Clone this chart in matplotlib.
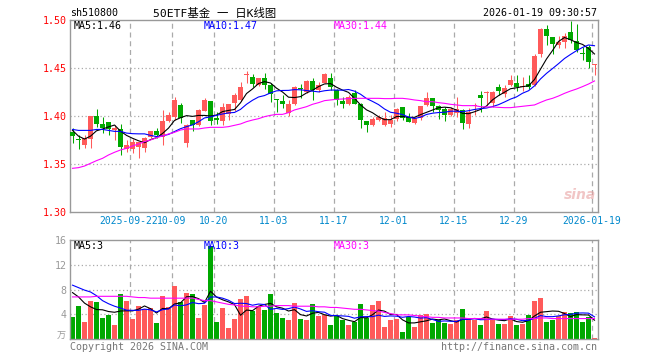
import numpy as np
import pandas as pd
import matplotlib
matplotlib.use('Agg')
import matplotlib.pyplot as plt

W, H = 660, 360

# daily K data, 2025-09-08 .. 2026-01-19 (88 trading days)
opens = [1.383, 1.376, 1.370, 1.376, 1.400, 1.392, 1.394, 1.385, 1.386, 1.366,
         1.366, 1.368, 1.367, 1.378, 1.384, 1.378, 1.395, 1.399, 1.411, 1.372,
         1.396, 1.391, 1.405, 1.416, 1.398, 1.395, 1.402, 1.414, 1.417, 1.443,
         1.441, 1.432, 1.440, 1.432, 1.418, 1.416, 1.403, 1.412, 1.429, 1.425,
         1.436, 1.427, 1.434, 1.440, 1.427, 1.416, 1.413, 1.424, 1.413, 1.395,
         1.391, 1.396, 1.391, 1.392, 1.397, 1.409, 1.399, 1.393, 1.398, 1.411,
         1.419, 1.410, 1.407, 1.401, 1.403, 1.406, 1.392, 1.410, 1.422, 1.424,
         1.414, 1.430, 1.423, 1.432, 1.434, 1.430, 1.433, 1.432, 1.465, 1.491,
         1.482, 1.474, 1.477, 1.488, 1.478, 1.466, 1.472, 1.453]
highs = [1.387, 1.380, 1.380, 1.400, 1.407, 1.399, 1.394, 1.391, 1.392, 1.375,
         1.376, 1.373, 1.378, 1.384, 1.388, 1.406, 1.404, 1.420, 1.414, 1.392,
         1.396, 1.407, 1.419, 1.416, 1.404, 1.414, 1.413, 1.424, 1.435, 1.447,
         1.444, 1.440, 1.445, 1.434, 1.418, 1.422, 1.417, 1.431, 1.433, 1.437,
         1.440, 1.435, 1.445, 1.445, 1.428, 1.420, 1.422, 1.427, 1.414, 1.395,
         1.399, 1.401, 1.404, 1.401, 1.408, 1.409, 1.403, 1.399, 1.410, 1.425,
         1.419, 1.411, 1.409, 1.409, 1.420, 1.407, 1.408, 1.414, 1.426, 1.426,
         1.426, 1.433, 1.432, 1.443, 1.443, 1.441, 1.443, 1.465, 1.492, 1.495,
         1.482, 1.483, 1.486, 1.499, 1.496, 1.472, 1.474, 1.454]
lows = [1.372, 1.366, 1.367, 1.367, 1.389, 1.382, 1.380, 1.375, 1.359, 1.363,
        1.361, 1.356, 1.363, 1.377, 1.377, 1.370, 1.394, 1.396, 1.393, 1.368,
        1.384, 1.390, 1.405, 1.391, 1.392, 1.391, 1.396, 1.405, 1.416, 1.434,
        1.430, 1.431, 1.428, 1.415, 1.404, 1.408, 1.400, 1.411, 1.419, 1.424,
        1.417, 1.425, 1.434, 1.427, 1.411, 1.408, 1.411, 1.412, 1.387, 1.383,
        1.390, 1.395, 1.390, 1.389, 1.395, 1.396, 1.394, 1.392, 1.396, 1.410,
        1.404, 1.397, 1.395, 1.400, 1.399, 1.386, 1.387, 1.401, 1.404, 1.411,
        1.409, 1.422, 1.420, 1.431, 1.426, 1.426, 1.428, 1.431, 1.461, 1.474,
        1.465, 1.471, 1.471, 1.476, 1.467, 1.458, 1.450, 1.443]
closes = [1.379, 1.375, 1.377, 1.400, 1.392, 1.388, 1.386, 1.387, 1.368, 1.370,
          1.373, 1.373, 1.377, 1.384, 1.380, 1.395, 1.401, 1.417, 1.398, 1.391,
          1.391, 1.406, 1.417, 1.395, 1.396, 1.409, 1.412, 1.422, 1.430, 1.444,
          1.433, 1.440, 1.432, 1.423, 1.417, 1.413, 1.413, 1.430, 1.428, 1.436,
          1.427, 1.432, 1.444, 1.430, 1.417, 1.412, 1.420, 1.413, 1.396, 1.391,
          1.397, 1.399, 1.398, 1.396, 1.407, 1.398, 1.394, 1.398, 1.410, 1.419,
          1.410, 1.406, 1.401, 1.407, 1.407, 1.393, 1.404, 1.411, 1.419, 1.425,
          1.425, 1.426, 1.429, 1.437, 1.430, 1.431, 1.430, 1.462, 1.491, 1.483,
          1.475, 1.477, 1.483, 1.479, 1.469, 1.465, 1.456, 1.454]
# volume, unit: 万
volumes = [3.6, 5.3, 2.8, 6.2, 5.9, 3.4, 3.9, 2.2, 7.2, 6.1,
           3.3, 5.3, 4.8, 5.0, 2.6, 7.0, 5.1, 8.6, 5.9, 7.5,
           7.2, 3.4, 5.5, 15.0, 2.8, 5.0, 1.7, 3.3, 6.4, 7.0,
           4.5, 5.3, 4.7, 7.3, 4.2, 3.4, 3.0, 5.8, 3.3, 3.1,
           5.6, 3.7, 3.9, 2.2, 3.7, 3.0, 2.3, 2.8, 5.6, 3.4,
           5.5, 6.1, 1.9, 3.0, 3.3, 1.2, 3.6, 1.9, 3.9, 4.1,
           2.6, 3.0, 2.6, 2.5, 3.0, 4.8, 3.3, 3.0, 2.2, 4.5,
           3.1, 2.5, 2.5, 3.7, 2.3, 2.5, 3.9, 6.2, 6.7, 2.8,
           3.0, 3.7, 4.4, 4.2, 4.4, 2.8, 3.6, 0.2]

# moving-average values before the window is full
ma5_head = [1.385, 1.379, 1.376, 1.379]
ma10_head = [1.386, 1.385, 1.385, 1.385, 1.386, 1.386, 1.385, 1.384, 1.384]
ma30 = [1.3455, 1.3462, 1.3479, 1.3507, 1.3535, 1.3559, 1.3594, 1.3622, 1.3646, 1.3663,
        1.3688, 1.3708, 1.3733, 1.3750, 1.3774, 1.3792, 1.3813, 1.3830, 1.3854, 1.3865,
        1.3865, 1.3865, 1.3875, 1.3882, 1.3882, 1.3882, 1.3889, 1.3903, 1.3917, 1.3941,
        1.3958, 1.3972, 1.3993, 1.4007, 1.4017, 1.4017, 1.4035, 1.4063, 1.4080, 1.4097,
        1.4122, 1.4139, 1.4160, 1.4167, 1.4174, 1.4177, 1.4181, 1.4184, 1.4184, 1.4184,
        1.4184, 1.4184, 1.4181, 1.4181, 1.4184, 1.4184, 1.4177, 1.4167, 1.4160, 1.4149,
        1.4149, 1.4139, 1.4132, 1.4122, 1.4115, 1.4108, 1.4108, 1.4108, 1.4097, 1.4094,
        1.4094, 1.4090, 1.4087, 1.4087, 1.4094, 1.4101, 1.4108, 1.4115, 1.4142, 1.4167,
        1.4184, 1.4208, 1.4236, 1.4260, 1.4281, 1.4306, 1.4333, 1.4365]
vol_ma5_head = [7.5, 6.8, 5.8, 5.2]
vol_ma10_head = [8.7, 8.3, 7.9, 7.6, 7.0, 6.2, 5.7, 5.3, 5.0]
vol_ma30 = [6.8, 6.8, 6.8, 6.8, 6.9, 6.9, 6.9, 6.9, 6.9, 6.9,
            6.8, 6.7, 6.7, 6.6, 6.6, 6.6, 6.6, 6.6, 6.6, 6.6,
            6.6, 6.4, 6.2, 6.2, 6.0, 5.8, 5.6, 5.5, 5.3, 5.3,
            5.2, 5.2, 5.3, 5.3, 5.4, 5.4, 5.4, 5.3, 5.3, 5.3,
            5.3, 5.2, 5.2, 5.1, 5.1, 5.0, 4.9, 4.8, 4.8, 4.7,
            4.6, 4.5, 4.3, 4.1, 3.9, 3.9, 3.9, 3.8, 3.7, 3.6,
            3.5, 3.5, 3.4, 3.4, 3.4, 3.4, 3.3, 3.3, 3.3, 3.2,
            3.2, 3.2, 3.2, 3.2, 3.2, 3.2, 3.3, 3.3, 3.4, 3.4,
            3.3, 3.3, 3.3, 3.3, 3.3, 3.3, 3.3, 3.3]

tick_idx = [10, 17, 24, 34, 44, 54, 64, 74, 87]
tick_labels = ['2025-09-22', '10-09', '10-20', '11-03', '11-17',
               '12-01', '12-15', '12-29', '2026-01-19']
price_ticks = [1.30, 1.35, 1.40, 1.45, 1.50]
vol_ticks = [4, 8, 12, 16]

RED = '#ff5a5a'
GREEN = '#00a800'
GRID = '#aaaaaa'
FRAME = '#999999'
MONO = 'DejaVu Sans Mono'
FS = 7.0


def moving_avg(values, n, head):
    s = pd.Series(values).rolling(n).mean().values
    s[:len(head)] = head
    return s


def px(x, y):
    return x / W, 1 - y / H


def style_axes(ax):
    for sp in ax.spines.values():
        sp.set_color(FRAME)
        sp.set_linewidth(1.0)
    ax.set_xlim(-0.42, 87.5)
    ax.set_xticks([])
    for t in tick_idx:
        ax.axvline(t - 0.42, color=GRID, lw=0.9, ls=(0, (4, 3)), zorder=0)


fig = plt.figure(figsize=(W / 100, H / 100), dpi=100)
ax1 = fig.add_axes([70 / W, 1 - 212 / H, 527.5 / W, 192 / H])
ax2 = fig.add_axes([70 / W, 1 - 339 / H, 527.5 / W, 99 / H])

x = np.arange(len(closes))
o = np.array(opens)
c = np.array(closes)
up = c >= o
colors = [RED if u else GREEN for u in up]

# price panel
style_axes(ax1)
ax1.set_ylim(1.30, 1.50)
for lvl in price_ticks[1:-1]:
    ax1.axhline(lvl, color=GRID, lw=0.9, ls=(0, (1, 2)), zorder=0)
ax1.vlines(x, lows, highs, colors=colors, lw=0.75, zorder=2)
body_low = np.minimum(o, c)
body_h = np.maximum(np.abs(c - o), 0.0011)
ax1.bar(x, body_h, bottom=body_low, width=0.8, color=colors, lw=0, zorder=3)
ax1.plot(x, moving_avg(closes, 5, ma5_head), color='black', lw=0.8, zorder=4)
ax1.plot(x, moving_avg(closes, 10, ma10_head), color='#0000ff', lw=0.8, zorder=4)
ax1.plot(x, ma30, color='#ff00ff', lw=0.8, zorder=4)
ax1.set_yticks(price_ticks)
ax1.set_yticklabels([f'{v:.2f}' for v in price_ticks], color='red',
                    fontfamily=MONO, fontsize=7.2)
ax1.tick_params(axis='y', length=0, pad=2.5)

# volume panel
style_axes(ax2)
ax2.set_ylim(0, 16)
for lvl in vol_ticks[:-1]:
    ax2.axhline(lvl, color=GRID, lw=0.9, ls=(0, (1, 2)), zorder=0)
ax2.bar(x, volumes, width=0.83, color=colors, lw=0, zorder=2)
ax2.plot(x, moving_avg(volumes, 5, vol_ma5_head), color='black', lw=0.8, zorder=4)
ax2.plot(x, moving_avg(volumes, 10, vol_ma10_head), color='#0000ff', lw=0.8, zorder=4)
ax2.plot(x, vol_ma30, color='#ff00ff', lw=0.8, zorder=4)
ax2.set_yticks(vol_ticks)
ax2.set_yticklabels([str(v) for v in vol_ticks], color='#999999',
                    fontfamily=MONO, fontsize=7.2)
ax2.tick_params(axis='y', length=0, pad=2.5)

# date labels under the price panel (first one sits a touch left, as on sina)
for k, (t, lab) in enumerate(zip(tick_idx, tick_labels)):
    xpos = t - 0.42 - (0.2 if k == 0 else 0)
    ax1.text(xpos, 1.30 - 0.0045, lab, ha='center', va='top',
             color='#0088cc', fontfamily=MONO, fontsize=FS, clip_on=False)

# header texts
fig.text(*px(70, 13), 'sh510800', fontfamily=MONO, fontsize=7.2, va='center')
fig.text(*px(215, 13), '50ETF基金 一 日K线图', fontfamily=[MONO, 'Noto Sans CJK SC'],
         fontsize=8.2, va='center', ha='center')
fig.text(*px(597, 13), '2026-01-19 09:30:57', fontfamily=MONO, fontsize=7.2,
         va='center', ha='right')

ma5_last = moving_avg(closes, 5, ma5_head)[-1]
ma10_last = moving_avg(closes, 10, ma10_head)[-1]
fig.text(*px(74, 26), f'MA5:{ma5_last:.2f}', fontfamily=MONO, fontsize=7.2, va='center')
fig.text(*px(204, 26), f'MA10:{ma10_last:.2f}', color='#0000ff', fontfamily=MONO,
         fontsize=7.2, va='center')
fig.text(*px(334, 26), f'MA30:{ma30[-1]:.2f}', color='#ff00ff', fontfamily=MONO,
         fontsize=7.2, va='center')

vma5_last = moving_avg(volumes, 5, vol_ma5_head)[-1]
vma10_last = moving_avg(volumes, 10, vol_ma10_head)[-1]
fig.text(*px(74, 246), f'MA5:{int(vma5_last)}', fontfamily=MONO, fontsize=7.2, va='center')
fig.text(*px(204, 246), f'MA10:{int(vma10_last)}', color='#0000ff', fontfamily=MONO,
         fontsize=7.2, va='center')
fig.text(*px(334, 246), f'MA30:{int(vol_ma30[-1])}', color='#ff00ff', fontfamily=MONO,
         fontsize=7.2, va='center')
fig.text(*px(66, 336), '万', color='#999999', fontfamily=['Noto Sans CJK SC'],
         fontsize=6.5, va='center', ha='right')

# footer
fig.text(*px(70, 347), 'Copyright 2026 SINA.COM', color='#777777', fontfamily=MONO,
         fontsize=7.2, va='center')
fig.text(*px(597, 347), 'http://finance.sina.com.cn', color='#777777', fontfamily=MONO,
         fontsize=7.2, va='center', ha='right')

# faded sina watermark
fig.text(*px(580, 195), 'sina', color='#e8a0a0', alpha=0.6, fontsize=10,
         fontweight='bold', fontstyle='italic', va='center', ha='center')

fig.savefig('out.png', dpi=100)
